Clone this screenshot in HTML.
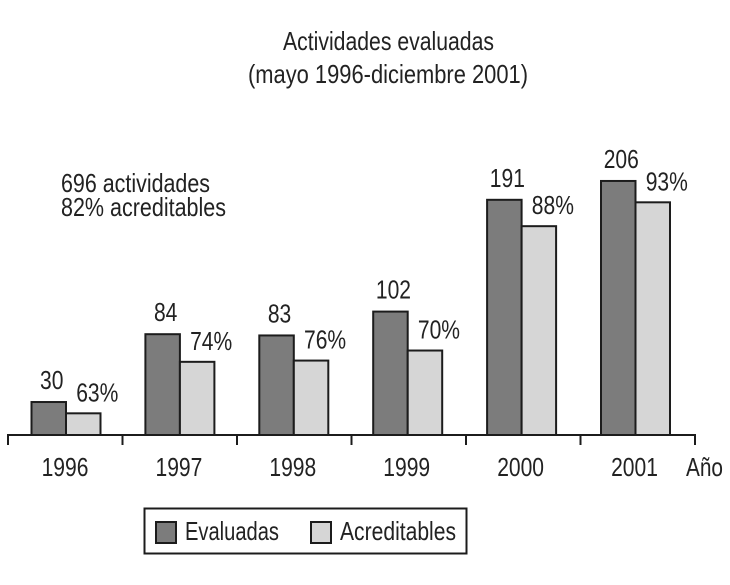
<!DOCTYPE html>
<html lang="es">
<head>
<meta charset="utf-8">
<title>Actividades evaluadas</title>
<style>
html,body{margin:0;padding:0;background:#fff;width:730px;height:585px;overflow:hidden}
svg{display:block}
text{font-family:"Liberation Sans",sans-serif;font-size:26px;fill:#222}
</style>
</head>
<body>
<svg id="chart" xmlns="http://www.w3.org/2000/svg" width="730" height="585" viewBox="0 0 730 585">
  <text x="283" y="50" textLength="211" lengthAdjust="spacingAndGlyphs">Actividades evaluadas</text>
  <text x="248" y="83" textLength="280" lengthAdjust="spacingAndGlyphs">(mayo 1996-diciembre 2001)</text>
  <text x="61" y="192" textLength="149" lengthAdjust="spacingAndGlyphs">696 actividades</text>
  <text x="61" y="216" textLength="165" lengthAdjust="spacingAndGlyphs">82% acreditables</text>
  <g id="bars"></g>
  <g id="axis"></g>
  <g id="labels"></g>
  <text x="686" y="476" textLength="37" lengthAdjust="spacingAndGlyphs">Año</text>
  <g>
    <rect x="144.5" y="508.5" width="322" height="45" fill="#fff" stroke="#1c1c1c" stroke-width="2"/>
    <rect x="156" y="522" width="20" height="21" fill="#7c7c7c" stroke="#1c1c1c" stroke-width="2"/>
    <text x="185" y="540" textLength="94" lengthAdjust="spacingAndGlyphs">Evaluadas</text>
    <rect x="311" y="522" width="20" height="21" fill="#d6d6d6" stroke="#1c1c1c" stroke-width="2"/>
    <text x="340" y="540" textLength="116" lengthAdjust="spacingAndGlyphs">Acreditables</text>
  </g>
</svg>
<script>
const categories = ["1996", "1997", "1998", "1999", "2000", "2001"];
const evaluadas = [30, 84, 83, 102, 191, 206];
const acreditables = [21, 62, 63, 71, 170, 189];
const evaluadasLabels = ["30", "84", "83", "102", "191", "206"];
const acreditablesLabels = ["63%", "74%", "76%", "70%", "88%", "93%"];

const NS = "http://www.w3.org/2000/svg";
const baseline = 435;
const barWidth = 34.5;
const INK = "#1c1c1c";

function xCenter(i) { return 66 + 113.9 * i; }
function xTick(i) { return 8 + 114.5 * i; }
function yValue(v) { return baseline + 4.7 - 1.256 * v; }

function make(tag, attrs, parent) {
  const el = document.createElementNS(NS, tag);
  for (const k in attrs) el.setAttribute(k, attrs[k]);
  parent.appendChild(el);
  return el;
}

function condensedText(str, x, y, parent) {
  const t = make("text", {
    transform: "translate(" + x + " " + y + ") scale(0.81 1)",
    "text-anchor": "middle"
  }, parent);
  t.textContent = str;
  return t;
}

const barsG = document.getElementById("bars");
const axisG = document.getElementById("axis");
const labelsG = document.getElementById("labels");

categories.forEach(function (cat, i) {
  const c = xCenter(i);

  const b1 = make("rect", {
    x: c - barWidth, y: yValue(evaluadas[i]),
    width: barWidth, height: baseline - yValue(evaluadas[i]),
    fill: "#7c7c7c", stroke: INK, "stroke-width": 2
  }, barsG);
  
  

  const b2 = make("rect", {
    x: c, y: yValue(acreditables[i]),
    width: barWidth, height: baseline - yValue(acreditables[i]),
    fill: "#d6d6d6", stroke: INK, "stroke-width": 2
  }, barsG);
  
  

  const l1 = condensedText(evaluadasLabels[i], c - barWidth / 2 + 3, yValue(evaluadas[i]) - 13, labelsG);
  
  

  const l2 = condensedText(acreditablesLabels[i], c + barWidth / 2 + 14, yValue(acreditables[i]) - 12, labelsG);
  
  

  const tl = condensedText(cat, c - 1, 476, axisG);
  
  
});

const axisLine = make("line", {
  x1: xTick(0) - 1, x2: xTick(categories.length) + 1,
  y1: baseline, y2: baseline, stroke: INK, "stroke-width": 2
}, axisG);



for (let i = 0; i <= categories.length; i++) {
  const tick = make("line", {
    x1: xTick(i), x2: xTick(i),
    y1: baseline, y2: baseline + 10, stroke: INK, "stroke-width": 2
  }, axisG);
  
  
}
</script>
</body>
</html>
